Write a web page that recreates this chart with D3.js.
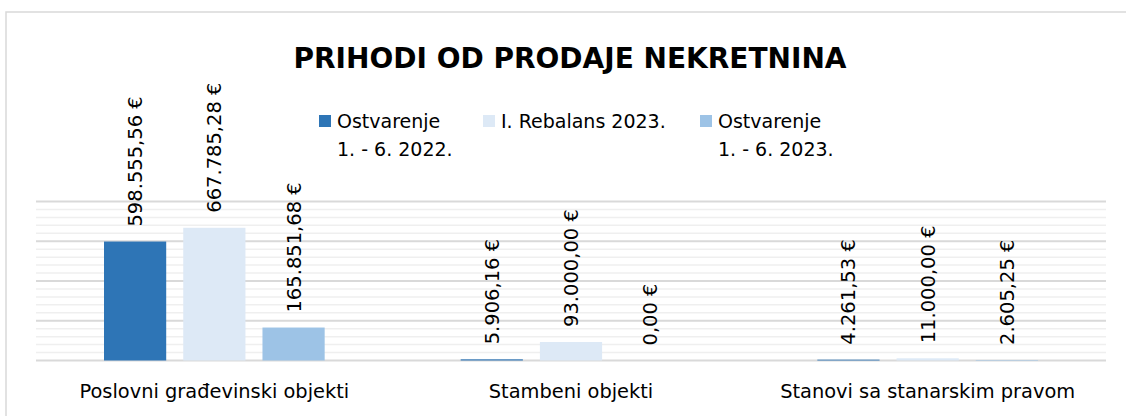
<!DOCTYPE html>
<html>
<head>
<meta charset="utf-8">
<script src="https://cdn.jsdelivr.net/npm/d3@7"></script>
<style>
  body { margin: 0; background: #fff; }
  text { font-family: "DejaVu Sans", sans-serif; fill: #000; }
</style>
</head>
<body>
<div id="chart"></div>
<script>
// data
var categories = ["Poslovni građevinski objekti", "Stambeni objekti", "Stanovi sa stanarskim pravom"];
var seriesNames = [["Ostvarenje", "1. - 6. 2022."], ["I. Rebalans 2023."], ["Ostvarenje", "1. - 6. 2023."]];
var ostvarenje2022 = [598555.56, 5906.16, 4261.53];
var rebalans2023 = [667785.28, 93000.00, 11000.00];
var ostvarenje2023 = [165851.68, 0, 2605.25];
var majorTicks = [0, 200000, 400000, 600000, 800000];
var minorTicks = d3.range(0, 800001, 40000);

var colors = ["#2e75b6", "#dde9f6", "#9dc3e6"];

var svgWidth = 1126;
var svgHeight = 416;

var svg = d3.select("#chart")
  .append("svg")
  .attr("width", svgWidth)
  .attr("height", svgHeight);

// chart frame (cropped at right and bottom)
svg.append("rect")
  .attr("x", 6)
  .attr("y", 12)
  .attr("width", 1140)
  .attr("height", 420)
  .attr("fill", "none")
  .attr("stroke", "#d9d9d9")
  .attr("stroke-width", 1.5);

var allSeries = [ostvarenje2022, rebalans2023, ostvarenje2023];
var data = categories.map(function(c, i) {
  return { cat: c, vals: allSeries.map(function(s) { return s[i]; }) };
});

var x0 = d3.scaleBand()
  .domain(categories)
  .range([36, 1106]);

var x1 = d3.scaleBand()
  .domain([0, 1, 2])
  .range([68, x0.bandwidth() - 68])
  .paddingInner(0.215);

var y = d3.scaleLinear()
  .domain([0, 800000])
  .range([360.5, 201.5]);

// minor gridlines
svg.append("g")
  .selectAll("line")
  .data(minorTicks.filter(function(t) { return t % 200000 !== 0; }))
  .enter()
  .append("line")
  .attr("x1", 36).attr("x2", 1106)
  .attr("y1", function(d) { return y(d); })
  .attr("y2", function(d) { return y(d); })
  .attr("stroke", "#efefef")
  .attr("stroke-width", 1.5);

// major gridlines
svg.append("g")
  .selectAll("line")
  .data(majorTicks)
  .enter()
  .append("line")
  .attr("x1", 36).attr("x2", 1106)
  .attr("y1", function(d) { return y(d); })
  .attr("y2", function(d) { return y(d); })
  .attr("stroke", "#d9d9d9")
  .attr("stroke-width", 1.8);

var locale = d3.formatLocale({ decimal: ",", thousands: ".", grouping: [3], currency: ["", " €"] });
var fmt = locale.format(",.2f");

var groups = svg.selectAll(".grp")
  .data(data)
  .enter()
  .append("g")
  .attr("class", "grp")
  .attr("transform", function(d) { return "translate(" + x0(d.cat) + ",0)"; });

groups.selectAll("rect")
  .data(function(d) { return d.vals; })
  .enter()
  .append("rect")
  .attr("x", function(d, i) { return x1(i); })
  .attr("y", function(d) { return y(d); })
  .attr("width", x1.bandwidth())
  .attr("height", function(d) { return y(0) - y(d); })
  .attr("fill", function(d, i) { return colors[i]; });

groups.selectAll("text.val")
  .data(function(d) { return d.vals; })
  .enter()
  .append("text")
  .attr("class", "val")
  .attr("transform", function(d, i) {
    return "translate(" + (x1(i) + x1.bandwidth() / 2 + 7) + "," + (y(d) - 15) + ") rotate(-90)";
  })
  .attr("font-size", "19.5px")
  .text(function(d) { return fmt(d) + " €"; });

// category labels
svg.append("g")
  .selectAll("text")
  .data(categories)
  .enter()
  .append("text")
  .attr("x", function(d) { return x0(d) + x0.bandwidth() / 2; })
  .attr("y", 398)
  .attr("text-anchor", "middle")
  .attr("font-size", "19.4px")
  .text(function(d) { return d; });

// title
svg.append("text")
  .attr("x", 570)
  .attr("y", 68)
  .attr("text-anchor", "middle")
  .style("font-weight", "bold")
  .style("font-size", "28px")
  .text("PRIHODI OD PRODAJE NEKRETNINA");

// legend
var legendX = [319, 483, 700];
var legend = svg.selectAll(".leg")
  .data(seriesNames)
  .enter()
  .append("g")
  .attr("class", "leg")
  .attr("transform", function(d, i) { return "translate(" + legendX[i] + ",0)"; });

legend.append("rect")
  .attr("x", 0).attr("y", 115)
  .attr("width", 12).attr("height", 12)
  .attr("fill", function(d, i) { return colors[i]; });

legend.selectAll("text")
  .data(function(d) { return d; })
  .enter()
  .append("text")
  .attr("x", 18)
  .attr("y", function(d, j) { return 128 + j * 28; })
  .attr("font-size", "19px")
  .text(function(d) { return d; });
</script>
</body>
</html>
